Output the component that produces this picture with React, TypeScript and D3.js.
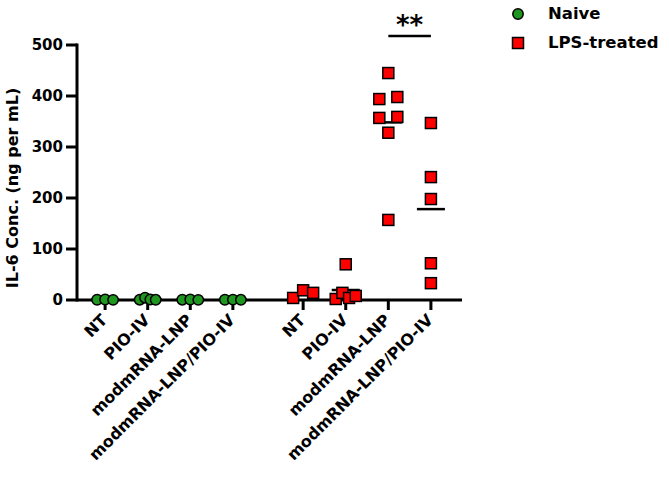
import React from 'react';
import * as d3 from 'd3';

const categories = ['NT', 'PIO-IV', 'modmRNA-LNP', 'modmRNA-LNP/PIO-IV'];
const seriesNames = ['Naive', 'LPS-treated'];
const naiveValues = [
  [0.5, 1.0, 0.3],
  [0.6, 4.5, 1.0, 0.4],
  [0.6, 1.0, 0.3],
  [0.5, 0.8, 0.4],
];
const lpsValues = [
  [4, 19, 14],
  [2, 14, 4, 8, 70],
  [445, 394, 398, 357, 359, 328, 157],
  [347, 241, 198, 72, 33],
];
const yTicks = [0, 100, 200, 300, 400, 500];
const sigFrom = 2;
const sigTo = 3;
const sigLabel = '**';

const W = 669;
const H = 482;
const FONT = '"DejaVu Sans", Arial, sans-serif';
const GREEN = '#1f961f';
const RED = '#ff0000';

const groupGap = 4.65;
const x = d3.scaleLinear().domain([-0.66, 8.38]).range([77, 462]);
const y = d3.scaleLinear().domain([0, 500]).range([300, 45]);

function spread(vals: number[], cx: number, maxStep: number, maxWidth: number, thr: number) {
  const idx = vals.map((v, i) => i).sort((a, b) => vals[a] - vals[b]);
  const clusters: number[][] = [];
  let cur: number[] = [];
  let startY = 0;
  idx.forEach((i) => {
    const py = y(vals[i]);
    if (cur.length === 0) {
      cur = [i];
      startY = py;
    } else if (Math.abs(py - startY) <= thr) {
      cur.push(i);
    } else {
      clusters.push(cur);
      cur = [i];
      startY = py;
    }
  });
  if (cur.length) clusters.push(cur);
  const out: number[] = new Array(vals.length);
  clusters.forEach((c) => {
    c.sort((a, b) => a - b);
    const n = c.length;
    const step = n > 1 ? Math.min(maxStep, maxWidth / (n - 1)) : 0;
    c.forEach((i, j) => {
      out[i] = cx + (j - (n - 1) / 2) * step;
    });
  });
  return out;
}

export default function App() {
  const pos = (g: number, i: number) => x(i + g * groupGap);
  const series = [naiveValues, lpsValues];

  return (
    <svg width={W} height={H} style={{ position: 'absolute', left: 0, top: 0, background: '#fff' }} fontFamily={FONT}>
      {/* y axis */}
      <line x1={x.range()[0]} x2={x.range()[0]} y1={y(500) - 1.5} y2={y(0) + 1.5} stroke="#000" strokeWidth={3} />
      {yTicks.map((t) => (
        <g key={t}>
          <line x1={x.range()[0] - 11} x2={x.range()[0]} y1={y(t)} y2={y(t)} stroke="#000" strokeWidth={3} />
          <text x={x.range()[0] - 14} y={y(t)} dy="0.36em" textAnchor="end" fontSize={15} fontWeight="bold">
            {t}
          </text>
        </g>
      ))}
      <text
        transform={`translate(18,188) rotate(-90)`}
        textAnchor="middle"
        fontSize={16}
        fontWeight="bold"
      >
        IL-6 Conc. (ng per mL)
      </text>
      {/* x axis */}
      <line x1={x.range()[0]} x2={x.range()[1]} y1={y(0)} y2={y(0)} stroke="#000" strokeWidth={3} />
      {series.map((s, g) =>
        categories.map((c, i) => (
          <g key={`t${g}-${i}`}>
            <line x1={pos(g, i)} x2={pos(g, i)} y1={y(0)} y2={y(0) + 10} stroke="#000" strokeWidth={3} />
            <text
              transform={`translate(${pos(g, i) + 3},${y(0) + 21}) rotate(-45)`}
              textAnchor="end"
              fontSize={16}
              fontWeight="bold"
            >
              {c}
            </text>
          </g>
        ))
      )}
      {/* mean lines */}
      {series.map((s, g) =>
        s.map((vals, i) => {
          const m = d3.mean(vals) as number;
          return (
            <line key={`m${g}-${i}`} x1={pos(g, i) - 14} x2={pos(g, i) + 14} y1={y(m)} y2={y(m)} stroke="#000" strokeWidth={2.5} />
          );
        })
      )}
      {/* naive points */}
      {naiveValues.map((vals, i) => {
        const xs = spread(vals, pos(0, i), 12, 16, 8);
        return vals.map((v, k) => (
          <circle key={`n${i}-${k}`} cx={xs[k]} cy={y(v)} r={5.2} fill={GREEN} stroke="#000" strokeWidth={1.5} />
        ));
      })}
      {/* LPS points */}
      {lpsValues.map((vals, i) => {
        const xs = spread(vals, pos(1, i), 18, 20, 8);
        return vals.map((v, k) => (
          <rect key={`l${i}-${k}`} x={xs[k] - 5.5} y={y(v) - 5.5} width={11} height={11} fill={RED} stroke="#000" strokeWidth={1.5} />
        ));
      })}
      {/* significance */}
      <line x1={pos(1, sigFrom)} x2={pos(1, sigTo)} y1={36} y2={36} stroke="#000" strokeWidth={2.5} />
      <text x={(pos(1, sigFrom) + pos(1, sigTo)) / 2} y={34} textAnchor="middle" fontSize={26} fontWeight="bold">
        {sigLabel}
      </text>
      {/* legend */}
      <circle cx={518} cy={14} r={5.2} fill={GREEN} stroke="#000" strokeWidth={1.5} />
      <text x={548} y={19} fontSize={16.5} fontWeight="bold">{seriesNames[0]}</text>
      <rect x={512.5} y={37.5} width={11} height={11} fill={RED} stroke="#000" strokeWidth={1.5} />
      <text x={548} y={48} fontSize={16.5} fontWeight="bold">{seriesNames[1]}</text>
    </svg>
  );
}
